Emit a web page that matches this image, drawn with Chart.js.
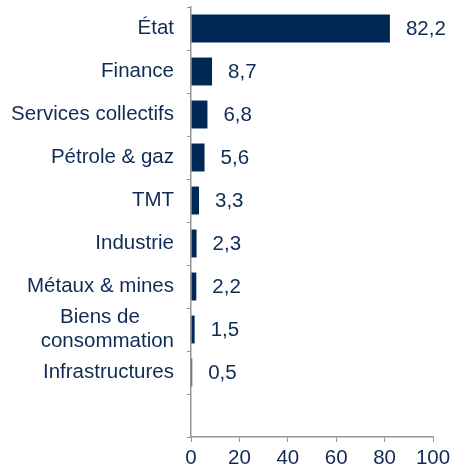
<!DOCTYPE html>
<html><head><meta charset="utf-8">
<script src="https://cdn.jsdelivr.net/npm/chart.js@4"></script>
<style>html,body{margin:0;padding:0;background:#fff}#wrap{width:451px;height:469px}</style>
</head><body><div id="wrap"><canvas id="c"></canvas></div>
<script>
const categories = ['État','Finance','Services collectifs','Pétrole & gaz','TMT','Industrie','Métaux & mines',['Biens de\u00a0\u00a0\u00a0\u00a0\u00a0\u00a0','consommation'],'Infrastructures',''];
const values = [82.2, 8.7, 6.8, 5.6, 3.3, 2.3, 2.2, 1.5, 0.5, null];
const xTicks = [0, 20, 40, 60, 80, 100];

const navy = '#002855';
const textNavy = '#0f2b55';
const axisGray = '#8e98a3';
const font = {family: '"Liberation Sans", Arial, sans-serif', size: 20.5};

const valueLabels = {
  id: 'valueLabels',
  afterDatasetsDraw(chart) {
    const ctx = chart.ctx;
    const meta = chart.getDatasetMeta(0);
    ctx.save();
    ctx.font = '20.5px "Liberation Sans", Arial, sans-serif';
    ctx.fillStyle = textNavy;
    ctx.textAlign = 'left';
    ctx.textBaseline = 'middle';
    meta.data.forEach((bar, i) => {
      const v = values[i];
      if (v == null) return;
      ctx.fillText(v.toFixed(1).replace('.', ','), bar.x + 16, bar.y + 1);
    });
    ctx.restore();
  }
};

Chart.defaults.font.family = font.family;
new Chart(document.getElementById('c'), {
  type: 'bar',
  data: {
    labels: categories,
    datasets: [{data: values, backgroundColor: navy, borderWidth: 0, barPercentage: 0.65, categoryPercentage: 1}]
  },
  options: {
    indexAxis: 'y',
    responsive: true,
    maintainAspectRatio: false,
    animation: false,
    layout: {autoPadding: false, padding: {left: 0, right: 18, top: 7, bottom: 0}},
    plugins: {legend: {display: false}, tooltip: {enabled: false}},
    scales: {
      x: {
        min: 0, max: 100,
        afterBuildTicks(scale) { scale.ticks = xTicks.map(v => ({value: v})); },
        afterFit(scale) { scale.height = 32; scale.paddingLeft = 0; scale.paddingRight = 0; },
        ticks: {color: textNavy, font: font, padding: 4, maxRotation: 0},
        grid: {drawOnChartArea: false, color: axisGray, tickLength: 5, tickColor: axisGray},
        border: {color: axisGray, width: 1.5}
      },
      y: {
        afterFit(scale) { scale.width = 191; scale.paddingTop = 0; scale.paddingBottom = 0; },
        ticks: {color: textNavy, font: font, padding: 13, autoSkip: false},
        grid: {drawOnChartArea: false, color: axisGray, tickLength: 4, tickColor: axisGray, offset: true},
        border: {color: axisGray, width: 1.5}
      }
    }
  },
  plugins: [valueLabels]
});
</script></body></html>
